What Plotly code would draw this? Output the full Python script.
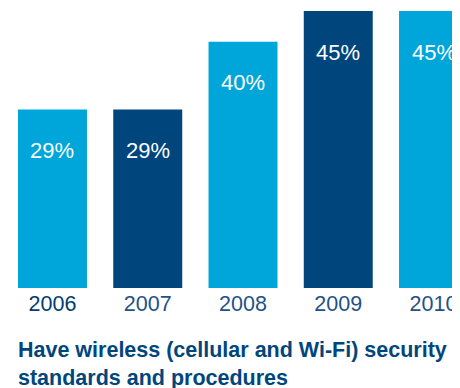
import plotly.graph_objects as go

years = ["2006", "2007", "2008", "2009", "2010"]
values = [29, 29, 40, 45, 45]
bar_colors = ["#00A6D9", "#00467D", "#00A6D9", "#00467D", "#00A6D9"]
year_colors = ["#003D70", "#1F5287", "#1F5287", "#1F5287", "#1F5287"]
title_text = "Have wireless (cellular and Wi-Fi) security<br>standards and procedures"

xs = list(range(len(years)))
tick_text = [f'<span style="color:{c}">{y}</span>' for y, c in zip(years, year_colors)]

fig = go.Figure()
fig.add_trace(go.Bar(
    x=xs, y=values, marker=dict(color=bar_colors, line=dict(width=0)),
    width=0.724, hoverinfo="skip",
))

for x, v in zip(xs, values):
    fig.add_annotation(x=x, y=v, text=f"{v}%", showarrow=False,
                       yanchor="middle", yshift=-41,
                       font=dict(family="Liberation Sans", size=22, color="white"))

fig.add_annotation(xref="paper", yref="paper", x=8/452, y=-0.172,
                   xanchor="left", yanchor="top", align="left",
                   text=f"<b>{title_text}</b>", showarrow=False,
                   font=dict(family="Liberation Sans", size=21.5, color="#00467D"))

fig.update_layout(
    width=452, height=380,
    margin=dict(l=0, r=0, t=0, b=100),
    plot_bgcolor="white", paper_bgcolor="white",
    showlegend=False,
    xaxis=dict(range=[-0.467, 4.278], tickvals=xs, ticktext=tick_text,
               showgrid=False, zeroline=False, showline=False, ticks="",
               tickfont=dict(family="Liberation Sans", size=21.5, color="#1F5287")),
    yaxis=dict(range=[0, 45.49], visible=False, showgrid=False),
)

fig.write_html("out.html")
